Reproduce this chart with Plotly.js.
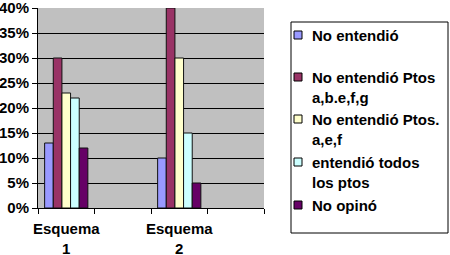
<!DOCTYPE html>
<html><head><meta charset="utf-8">
<script src="https://cdn.plot.ly/plotly-3.0.1.min.js"></script>
<style>body{margin:0;background:#fff}#c{width:450px;height:255px}</style>
</head><body><div id="c"></div>
<script>
const categories = ["Esquema<br>1", " ", "Esquema<br>2", "  "];
const seriesNames = ["No entendió", "No entendió Ptos<br>a,b.e,f,g", "No entendió Ptos.<br>a,e,f", "entendió todos<br>los ptos", "No opinó"];
const noEntendio = [0.13, null, 0.10, null];
const ptosABEFG = [0.30, null, 0.40, null];
const ptosAEF = [0.23, null, 0.30, null];
const entendioTodos = [0.22, null, 0.15, null];
const noOpino = [0.12, null, 0.05, null];
const yTickVals = [0, 0.05, 0.10, 0.15, 0.20, 0.25, 0.30, 0.35, 0.40];
const yTickText = ["0%", "5%", "10%", "15%", "20%", "25%", "30%", "35%", "40%"];

const colors = ["#9999FF", "#993366", "#FFFFCC", "#CCFFFF", "#660066"];
const values = [noEntendio, ptosABEFG, ptosAEF, entendioTodos, noOpino];
const traces = values.map((v, i) => ({
  type: "bar", x: categories, y: v, name: seriesNames[i],
  marker: {color: colors[i], line: {color: "#111", width: 1}},
  hoverinfo: "none", showlegend: false
}));
const font = {family: "Liberation Sans, Arial, sans-serif", size: 15, color: "#000", weight: "bold"};

// plot area in pixels
const L = 38, R = 264, T = 8, B = 208;
const px = x => (x - L) / (R - L);
const py = y => (B - y) / (B - T);

// custom legend (drawn in paper coordinates)
const shapes = [
  {type: "rect", xref: "paper", yref: "paper", x0: px(291), x1: px(448), y0: py(22), y1: py(233),
   line: {color: "#000", width: 1}, fillcolor: "#fff", layer: "above"}
];
const annotations = [];
const itemY = [35, 77, 119, 162, 205];
seriesNames.forEach((n, i) => {
  shapes.push({type: "rect", xref: "paper", yref: "paper", x0: px(294), x1: px(302),
    y0: py(itemY[i] + 4), y1: py(itemY[i] - 4), fillcolor: colors[i], line: {color: "#000", width: 1}});
  annotations.push({xref: "paper", yref: "paper", x: px(310), y: py(itemY[i] - 10), xanchor: "left",
    yanchor: "top", align: "left", showarrow: false, text: n, font: font});
});

const layout = {
  width: 450, height: 255,
  margin: {l: L, r: 450 - R, t: T, b: 255 - B},
  paper_bgcolor: "#fff", plot_bgcolor: "#C0C0C0",
  font: font,
  barmode: "group", bargap: 0.235, bargroupgap: 0,
  showlegend: false,
  xaxis: {type: "category", showgrid: false, showline: true, linecolor: "#000", linewidth: 1,
          ticks: "outside", tickson: "boundaries", ticklen: 5, tickcolor: "#000", tickfont: font,
          tickangle: 0, ticklabelstandoff: 7, fixedrange: true},
  yaxis: {range: [0, 0.4], tickvals: yTickVals, ticktext: yTickText, showgrid: true, gridcolor: "#000",
          gridwidth: 1, showline: true, linecolor: "#000", ticks: "outside", ticklen: 5, tickcolor: "#000",
          tickfont: font, zeroline: false, ticklabeloverflow: "allow", fixedrange: true},
  shapes: shapes,
  annotations: annotations
};
Plotly.newPlot("c", traces, layout, {displayModeBar: false, staticPlot: true});
</script></body></html>
